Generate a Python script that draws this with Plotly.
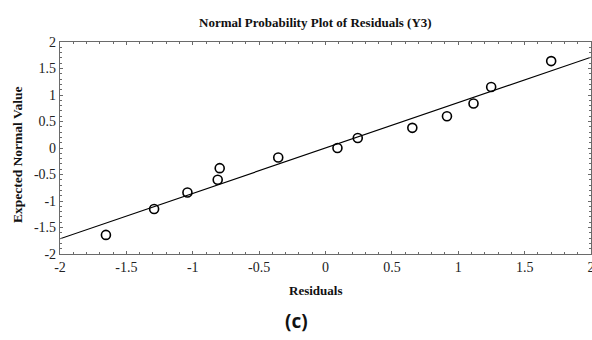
import numpy as np
import plotly.graph_objects as go

# Residuals and their expected normal scores (Y3 model)
residuals = [-1.654, -1.291, -1.040, -0.812, -0.797, -0.356, 0.090,
             0.243, 0.654, 0.915, 1.115, 1.248, 1.700]
expected_normal = [-1.64, -1.15, -0.84, -0.60, -0.38, -0.18, 0.00,
                   0.19, 0.38, 0.60, 0.84, 1.15, 1.64]

x_ticks = [-2, -1.5, -1, -0.5, 0, 0.5, 1, 1.5, 2]
x_tick_text = ["-2", "-1.5", "-1", "-0.5", "0", "0.5", "1", "1.5", "2"]
y_ticks = [-2, -1.5, -1, -0.5, 0, 0.5, 1, 1.5, 2]
y_tick_text = ["-2", "-1.5", "-1", "-0.5", "0", "0.5", "1", "1.5", "2"]

# Least-squares reference line across the full residual range
slope, intercept = np.polyfit(residuals, expected_normal, 1)
line_x = np.array([x_ticks[0], x_ticks[-1]])
line_y = slope * line_x + intercept

SERIF = "Liberation Serif"
AXIS_COLOR = "#6a6a6a"

fig = go.Figure()
fig.add_trace(go.Scatter(
    x=line_x, y=line_y, mode="lines",
    line=dict(color="black", width=1.2),
    hoverinfo="skip", showlegend=False,
))
fig.add_trace(go.Scatter(
    x=residuals, y=expected_normal, mode="markers",
    marker=dict(symbol="circle-open", size=9, color="black",
                line=dict(width=1.6, color="black")),
    showlegend=False,
))

axis_common = dict(
    showgrid=False, zeroline=False,
    showline=True, linecolor=AXIS_COLOR, linewidth=1.2,
    mirror="ticks", ticks="inside", ticklen=3, tickcolor=AXIS_COLOR,
    tickfont=dict(family=SERIF, size=14, color="#222"),
    ticklabeloverflow="allow", automargin=False,
    range=[-2, 2],
)

fig.update_xaxes(
    **axis_common,
    tickvals=x_ticks, ticktext=x_tick_text,
    minor=dict(dtick=0.1, ticks="inside", ticklen=2, tickcolor=AXIS_COLOR),
)
fig.update_yaxes(
    **axis_common,
    tickvals=y_ticks, ticktext=y_tick_text,
    minor=dict(dtick=0.1, ticks="inside", ticklen=2, tickcolor=AXIS_COLOR),
)

fig.update_layout(
    width=592, height=340,
    margin=dict(l=60, r=1, t=42, b=86, autoexpand=False),
    paper_bgcolor="white", plot_bgcolor="white",
    annotations=[
        dict(text="<b>Normal Probability Plot of Residuals (Y3)</b>",
             xref="paper", yref="paper", x=(315 - 60) / 531, y=1 + 20 / 212,
             xanchor="center", yanchor="middle", showarrow=False,
             font=dict(family=SERIF, size=13, color="#111")),
        dict(text="<b>Residuals</b>",
             xref="paper", yref="paper", x=(315 - 60) / 531, y=-36 / 212,
             xanchor="center", yanchor="middle", showarrow=False,
             font=dict(family=SERIF, size=13, color="#111")),
        dict(text="<b>Expected Normal Value</b>", textangle=-90,
             xref="paper", yref="paper", x=-43 / 531, y=0.5 - 7 / 212,
             xanchor="center", yanchor="middle", showarrow=False,
             font=dict(family=SERIF, size=13.5, color="#111")),
        dict(text="<b>(c)</b>",
             xref="paper", yref="paper", x=(296 - 60) / 531, y=-67 / 212,
             xanchor="center", yanchor="middle", showarrow=False,
             font=dict(family="Open Sans, sans-serif", size=19, color="#111")),
    ],
)

fig.write_html("out.html")
